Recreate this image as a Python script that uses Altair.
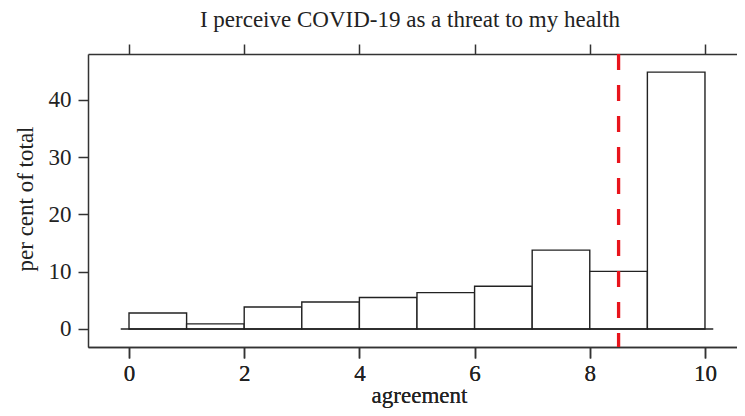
import altair as alt
import pandas as pd

# Histogram bins (agreement score) and per cent of total
bin_start = [0, 1, 2, 3, 4, 5, 6, 7, 8, 9]
bin_end = [1, 2, 3, 4, 5, 6, 7, 8, 9, 10]
percent = [2.8, 0.9, 3.85, 4.7, 5.5, 6.35, 7.45, 13.75, 10.05, 44.8]

threshold = [8.5]
x_ticks = [0, 2, 4, 6, 8, 10]
y_ticks = [0, 10, 20, 30, 40]

FONT = "Liberation Serif"
FS = 23
W, H = 649, 293

df = pd.DataFrame({"start": bin_start, "end": bin_end, "pct": percent})
df_thr = pd.DataFrame({"thr": threshold})

xscale = alt.Scale(domain=[-0.712, 10.556], nice=False, zero=False)
yscale = alt.Scale(domain=[-3.14, 47.97], nice=False, zero=False)

x_bottom = alt.Axis(orient="bottom", values=x_ticks, tickSize=11, labelPadding=4,
                    labelFlush=False, labelOverlap=False, format="d",
                    title="agreement", titleX=331, titleY=55,
                    titleBaseline="alphabetic", titleAlign="center")
x_top = alt.Axis(orient="top", values=x_ticks, tickSize=10, labels=False, title=None)
y_left = alt.Axis(orient="left", values=y_ticks, tickSize=10, labelPadding=7,
                  labelFlush=False, labelOverlap=False, format="d",
                  title="per cent of total", titleX=-56, titleY=144.5,
                  titleAngle=270, titleBaseline="alphabetic", titleAlign="center")

bars = alt.Chart(df).mark_rect(fill="white", stroke="#222", strokeWidth=1.4).encode(
    x=alt.X("start:Q", scale=xscale, axis=x_bottom),
    x2="end:Q",
    y=alt.Y("pct:Q", scale=yscale, axis=y_left),
    y2=alt.datum(0),
)

baseline = alt.Chart(pd.DataFrame({"a": [0]})).mark_rule(color="#222", strokeWidth=1.4).encode(
    x=alt.X(datum=-0.144, scale=xscale, axis=x_bottom),
    x2=alt.X2(datum=10.144),
    y=alt.Y(datum=0, scale=yscale, axis=y_left),
)

red = alt.Chart(df_thr).mark_rule(color="#e8141c", strokeWidth=3.3, strokeDash=[16, 15]).encode(
    x=alt.X("thr:Q", scale=xscale, axis=x_top),
)

chart = alt.layer(bars, baseline, red).properties(
    width=W,
    height=H,
    title=alt.Title("I perceive COVID-19 as a threat to my health", font=FONT, fontSize=FS,
                    fontWeight="normal", color="#222", anchor="middle",
                    baseline="alphabetic", offset=-7, dx=-2.5),
    autosize=alt.AutoSizeParams(type="none"),
    padding={"left": 80, "top": 46, "right": 0, "bottom": 61},
).configure_view(stroke=None).configure_axis(
    grid=False,
    domainColor="#333", domainWidth=1.5,
    tickColor="#333", tickWidth=1.5,
    labelFont=FONT, labelFontSize=FS, labelColor="#222",
    titleFont=FONT, titleFontSize=FS, titleFontWeight="normal", titleColor="#222",
)

chart.save("out.html", embed_options={"renderer": "svg", "actions": False})
